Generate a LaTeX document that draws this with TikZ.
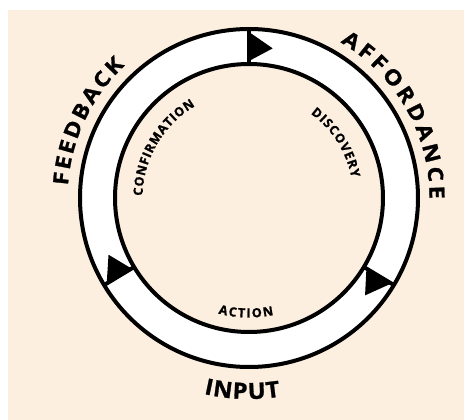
\documentclass[tikz,border=0pt]{standalone}
\usepackage{fontspec}
\setmainfont{Open Sans}[BoldFeatures={FakeBold=1.2}]
\definecolor{peach}{RGB}{252,239,223}
\newcommand\fontbig{\bfseries\fontsize{21}{21}\selectfont}
\newcommand\fontinp{\bfseries\fontsize{22.4}{22.4}\selectfont}
\newcommand\fontsmall{\bfseries\fontsize{12.6}{12.6}\selectfont}
\newcommand\xsbig{1.12}
\newcommand\xsinp{1.05}
\newcommand\xssmall{1.0}
% measure letter widths before any picture (fonts are \nullfont inside tikzpicture)
\newcommand\measureletters[1]{%
  \foreach \ch in {A,B,C,D,E,F,I,K,M,N,O,P,R,S,T,U,V,Y} {%
    \setbox0=\hbox{\csname font#1\endcsname\ch}%
    \expandafter\xdef\csname wd@#1@\ch\endcsname{\the\wd0}%
  }%
}
\AtBeginDocument{\measureletters{big}\measureletters{inp}\measureletters{small}}
% #1 name prefix, #2 letters (comma list), #3 font key, #4 baseline radius,
% #5 centre angle, #6 extra spacing (pt), #7 dir (1 = clockwise, tops outward; -1 = ccw, tops inward)
\newcommand\arcword[7]{%
  \gdef\arctot{0}%
  \foreach \ch in {#2} {%
    \pgfmathsetmacro\arctmp{\arctot+\csname xs#3\endcsname*\csname wd@#3@\ch\endcsname+#6}%
    \xdef\arctot{\arctmp}%
  }%
  \pgfmathsetmacro\arctmp{\arctot-#6}\xdef\arctot{\arctmp}%
  \gdef\arcpos{0}%
  \foreach \ch [count=\k] in {#2} {%
    \pgfmathsetmacro\arcw{\csname xs#3\endcsname*\csname wd@#3@\ch\endcsname}%
    \pgfmathsetmacro\arcmid{\arcpos+0.5*\arcw-0.5*\arctot}%
    \pgfmathsetmacro\arcang{#5-(#7)*\arcmid/#4*180/pi}%
    \pgfmathsetmacro\arcrot{\arcang-(#7)*90}%
    \node[letter, font=\csname font#3\endcsname, rotate=\arcrot, xscale=\csname xs#3\endcsname] (#1-\k) at (\arcang:#4pt) {\ch};
    \pgfmathsetmacro\arctmp{\arcpos+\arcw+#6}%
    \xdef\arcpos{\arctmp}%
  }%
}
\tikzset{
  ringline/.style={line width=4pt, black},
  letter/.style={anchor=base, inner sep=0pt, text=black}
}
\begin{document}
\begin{tikzpicture}[x=1pt,y=1pt]
\useasboundingbox (0,0) rectangle (464,-420);
\fill[white] (0,0) rectangle (464,-420);
\fill[peach] (8,-10) rectangle (464,-420);
\begin{scope}[shift={(249,-198)}]
  \coordinate (c) at (0,0);
  \fill[white, even odd rule] (c) circle (169pt) (c) circle (134pt);
  \draw[ringline] (c) circle (169pt);
  \draw[ringline] (c) circle (134pt);
  \foreach \a in {90,-31,211} {
    \draw[ringline] (\a:134pt) -- (\a:169pt);
    \fill (\a:137pt) -- (\a:166pt) -- ({\a-9}:151.5pt) -- cycle;
  }
  \arcword{aff}{A,F,F,O,R,D,A,N,C,E}{big}{180.5}{29.6}{3.5}{1}
  \arcword{fee}{F,E,E,D,B,A,C,K}{big}{181.5}{154.6}{2.4}{1}
  \arcword{con}{C,O,N,F,I,R,M,A,T,I,O,N}{small}{106.5}{149.6}{0.8}{1}
  \arcword{dis}{D,I,S,C,O,V,E,R,Y}{small}{104.5}{32.5}{1}{1}
  \arcword{act}{A,C,T,I,O,N}{small}{119.5}{268.5}{1.5}{-1}
  \arcword{inp}{I,N,P,U,T}{inp}{201}{268}{1}{-1}
\end{scope}
\end{tikzpicture}
\end{document}
